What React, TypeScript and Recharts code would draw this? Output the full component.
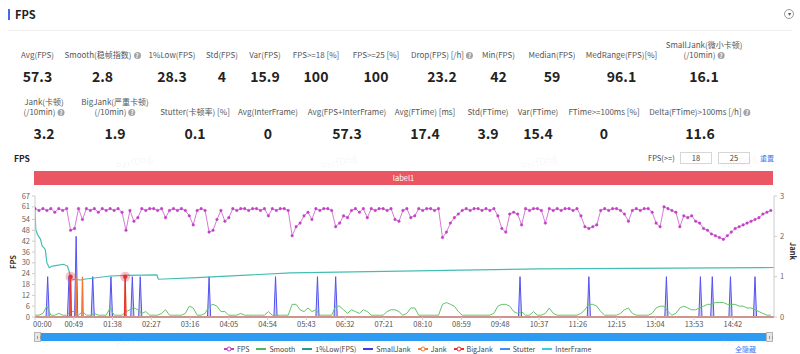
import React from "react";
import { ComposedChart, Line, Area, XAxis, YAxis } from "recharts";

const FONT = '"Noto Sans CJK SC", "Noto Sans", sans-serif';

// sampling step of the FPS / Smooth series, seconds
const STEP = 5;
const END = 934;

const fpsValues = [
  60, 59, 60, 59, 60, 58, 60, 59, 60, 48,
  49, 60, 54, 60, 59, 60, 58, 60, 59, 60,
  59, 60, 58, 48, 59, 53, 55, 60, 59, 60,
  60, 59, 60, 55, 59, 60, 59, 60, 59, 56,
  51, 59, 60, 59, 47, 48, 54, 59, 53, 55,
  60, 59, 60, 60, 59, 60, 60, 59, 60, 56,
  60, 59, 60, 60, 59, 45, 50, 52, 56, 58,
  54, 60, 59, 60, 60, 59, 50, 52, 56, 55,
  59, 60, 58, 60, 55, 60, 59, 60, 60, 59,
  60, 54, 53, 59, 60, 55, 56, 60, 59, 60,
  60, 59, 60, 44, 47, 52, 55, 57, 59, 60,
  59, 60, 60, 59, 60, 59, 60, 56, 49, 47,
  57, 58, 57, 51, 60, 59, 60, 60, 59, 52,
  60, 59, 60, 59, 60, 60, 59, 60, 56, 50,
  49, 50, 51, 59, 60, 59, 60, 60, 59, 57,
  53, 59, 60, 59, 60, 60, 58, 52, 50, 61,
  60, 59, 58, 50, 56, 55, 56, 53, 52, 49,
  48, 46, 45, 44, 43, 45, 47, 49, 50, 51,
  52, 53, 54, 55, 57, 58, 59,
];

const smoothValues = [
  1, 1, 2, 6, 1, 1, 2, 1, 1, 3,
  3, 1, 3, 1, 1, 2, 1, 1, 1, 5,
  1, 1, 1, 3, 4, 5, 4, 2, 3, 1,
  1, 1, 2, 4, 1, 1, 1, 1, 2, 6,
  5, 1, 1, 2, 6, 7, 6, 3, 3, 1,
  1, 1, 2, 1, 1, 1, 1, 1, 1, 3,
  1, 1, 1, 1, 1, 7, 7, 4, 3, 5,
  3, 4, 1, 1, 1, 1, 6, 6, 4, 2,
  4, 3, 2, 4, 3, 1, 1, 1, 1, 3,
  4, 4, 3, 1, 2, 5, 5, 1, 1, 1,
  1, 1, 1, 7, 8, 7, 6, 3, 1, 1,
  1, 1, 1, 1, 1, 1, 2, 6, 7, 7,
  6, 3, 2, 3, 1, 1, 3, 1, 1, 2,
  5, 2, 1, 1, 1, 1, 1, 1, 2, 4,
  7, 7, 6, 3, 1, 1, 1, 1, 2, 4,
  5, 2, 1, 1, 1, 1, 2, 5, 6, 6,
  3, 1, 2, 5, 6, 5, 4, 4, 5, 6,
  7, 7, 8, 8, 8, 7, 7, 7, 6, 6,
  5, 5, 4, 3, 2, 1, 1,
];

const lowTimes = [0, 1, 3, 7, 9, 11, 13, 15, 18, 22, 28, 36, 41, 43, 45, 47, 58, 62, 95, 116, 154, 156, 205, 323, 638, 934];
const lowValues = [60, 48.5, 45.8, 43, 39.3, 38.4, 37.4, 30.1, 27.3, 28.2, 28.6, 29.2, 28.2, 25.5, 21.8, 20.9, 20.5, 20.9, 22.7, 23.1, 23.3, 20.9, 21.8, 24.4, 26.7, 27.4];

const smallJankTimes = [16, 43, 52, 73, 96, 123, 133, 220, 304, 357, 380, 613, 700, 798, 841, 856, 879, 910];
const smallJankValues = [1, 1, 2, 1, 1, 1, 1, 1, 1, 1, 1, 1, 1, 1, 1, 1, 1, 1];
const jankTimes = [45, 52, 60, 114];
const jankValues = [1, 1, 1, 1];
const bigJankTimes = [45, 114];
const bigJankValues = [1, 1];
const stutterTimes: number[] = [];
const interFrameTimes: number[] = [];

const timeTicks = [0, 49, 98, 147, 196, 245, 294, 343, 392, 441, 490, 539, 588, 637, 686, 735, 784, 833, 882];
const fpsTicks = [0, 6, 12, 18, 24, 30, 36, 42, 48, 54, 61, 67];
const jankTicks = [0, 1, 2, 3];

const row1Labels = [["Avg(FPS)"], ["Smooth(稳帧指数)"], ["1%Low(FPS)"], ["Std(FPS)"], ["Var(FPS)"], ["FPS>=18 [%]"], ["FPS>=25 [%]"], ["Drop(FPS) [/h]"], ["Min(FPS)"], ["Median(FPS)"], ["MedRange(FPS)[%]"], ["SmallJank(微小卡顿)", "(/10min)"]];
const row1Values = ["57.3", "2.8", "28.3", "4", "15.9", "100", "100", "23.2", "42", "59", "96.1", "16.1"];
const row1Help = [false, true, false, false, false, false, false, true, false, false, false, true];
const row1X = [37.5, 102.5, 172, 222, 265, 316, 376, 442, 498.5, 552, 621.5, 704];

const row2Labels = [["Jank(卡顿)", "(/10min)"], ["BigJank(严重卡顿)", "(/10min)"], ["Stutter(卡顿率) [%]"], ["Avg(InterFrame)"], ["Avg(FPS+InterFrame)"], ["Avg(FTime) [ms]"], ["Std(FTime)"], ["Var(FTime)"], ["FTime>=100ms [%]"], ["Delta(FTime)>100ms [/h]"]];
const row2Values = ["3.2", "1.9", "0.1", "0", "57.3", "17.4", "3.9", "15.4", "0", "11.6"];
const row2Help = [true, true, false, false, false, false, false, false, false, true];
const row2X = [44, 115, 195, 268, 347, 425, 488, 538, 604, 700];

const legendNames = ["FPS", "Smooth", "1%Low(FPS)", "SmallJank", "Jank", "BigJank", "Stutter", "InterFrame"];
const legendColors = ["#c23ec4", "#4fb85a", "#1c9d8f", "#3b3bea", "#f07a35", "#e3303b", "#3f8ef0", "#2fd0e6"];
const legendDots = [true, false, false, false, true, true, false, false];

const COLORS = {
  fps: "#c23ec4",
  fpsLine: "#d77ad8",
  smooth: "#62c46c",
  low: "#45bdb4",
  smallJank: "#5252f0",
  jank: "#f07a35",
  bigJank: "#e3303b",
  stutter: "#3f8ef0",
  interFrame: "#2fd0e6",
};

const mainRows = fpsValues.map((fps, i) => ({ t: i * STEP, fps, smooth: smoothValues[i] }));
const lowRows = lowTimes.map((t, i) => ({ t, v: lowValues[i] }));

// zero baseline with a narrow spike at each event time
const spikeRows = (times: number[], values: number[], half: number) => {
  const rows = [{ t: 0, v: 0 }];
  times.forEach((t, i) => {
    rows.push({ t: t - half, v: 0 }, { t, v: values[i] }, { t: t + half, v: 0 });
  });
  rows.push({ t: END, v: 0 });
  return rows;
};

const fmtTime = (s: number) =>
  `${String(Math.floor(s / 60)).padStart(2, "0")}:${String(s % 60).padStart(2, "0")}`;

const TimeTick = (props: any) => {
  const { x, y, payload } = props;
  const first = payload.value === 0;
  return (
    <text x={first ? x - 2 : x} y={y} dy="0.71em" textAnchor={first ? "start" : "middle"} fontSize={7.5} fill="#555" fontFamily={FONT}>
      {fmtTime(payload.value)}
    </text>
  );
};

const BigJankDot = (props: any) => {
  const { cx, cy, payload, index } = props;
  if (!payload || payload.v <= 0) return <g key={`bj-${index}`} />;
  return (
    <g key={`bj-${index}`}>
      <circle cx={cx} cy={cy} r={5} fill={COLORS.bigJank} fillOpacity={0.3} />
      <circle cx={cx} cy={cy} r={2.2} fill={COLORS.bigJank} />
    </g>
  );
};

const Help = () => (
  <span
    style={{
      display: "inline-block",
      width: 7,
      height: 7,
      borderRadius: "50%",
      background: "#a3a3a3",
      color: "#fff",
      fontSize: 6,
      lineHeight: "7px",
      textAlign: "center",
      marginLeft: 2,
      verticalAlign: "middle",
      fontWeight: 700,
    }}
  >
    ?
  </span>
);

const StatRow = ({ labels, values, help, xs, labelBottom, valueTop }: any) => (
  <>
    {labels.map((lines: string[], i: number) => (
      <React.Fragment key={i}>
        <div
          style={{
            position: "absolute",
            left: xs[i],
            top: labelBottom - lines.length * 10,
            transform: "translateX(-50%)",
            whiteSpace: "nowrap",
            textAlign: "center",
            fontSize: 8,
            lineHeight: "10px",
            color: "#555",
          }}
        >
          {lines.map((l, j) => (
            <div key={j}>
              {l}
              {help[i] && j === lines.length - 1 && <Help />}
            </div>
          ))}
        </div>
        <div
          style={{
            position: "absolute",
            left: xs[i],
            top: valueTop,
            transform: "translateX(-50%)",
            whiteSpace: "nowrap",
            fontSize: 14,
            lineHeight: "16px",
            fontWeight: 700,
            color: "#222",
          }}
        >
          {values[i]}
        </div>
      </React.Fragment>
    ))}
  </>
);

const watermarkX = [135, 340, 540, 740];

const App = () => {
  return (
    <div style={{ position: "relative", width: 800, height: 354, background: "#fff", fontFamily: FONT, overflow: "hidden" }}>
      <style>{"body{margin:0}"}</style>

      {/* header */}
      <div style={{ position: "absolute", left: 8, top: 9, width: 2, height: 11, background: "#3d6cf0" }} />
      <div style={{ position: "absolute", left: 15, top: 6, fontSize: 11, lineHeight: "16px", fontWeight: 700, color: "#222" }}>FPS</div>
      <div style={{ position: "absolute", left: 784, top: 9, width: 10, height: 10, borderRadius: "50%", border: "1px solid #999", boxSizing: "border-box", fontSize: 6, lineHeight: "8px", textAlign: "center", color: "#555" }}>▾</div>
      <div style={{ position: "absolute", left: 8, right: 8, top: 30, height: 1, background: "#eeeeee" }} />

      <StatRow labels={row1Labels} values={row1Values} help={row1Help} xs={row1X} labelBottom={60} valueTop={68} />
      <StatRow labels={row2Labels} values={row2Values} help={row2Help} xs={row2X} labelBottom={117} valueTop={125} />

      {/* chart toolbar */}
      <div style={{ position: "absolute", left: 14, top: 152, fontSize: 8.5, lineHeight: "12px", fontWeight: 700, color: "#222" }}>FPS</div>
      <div style={{ position: "absolute", left: 648, top: 152, fontSize: 7.5, lineHeight: "12px", color: "#444" }}>FPS(&gt;=)</div>
      {["18", "25"].map((v, i) => (
        <div key={v} style={{ position: "absolute", left: 680 + i * 38, top: 152, width: 32, height: 12, border: "1px solid #d6d6d6", boxSizing: "border-box", fontSize: 7.5, lineHeight: "10px", textAlign: "center", color: "#444" }}>{v}</div>
      ))}
      <div style={{ position: "absolute", left: 760, top: 152, fontSize: 7, lineHeight: "12px", color: "#3a7bf0" }}>重置</div>
      <div style={{ position: "absolute", left: 34, top: 171, width: 739, height: 14, background: "#eb5664", color: "#fff", fontSize: 7.5, lineHeight: "14px", textAlign: "center" }}>label1</div>

      {watermarkX.map((x) => (
        <React.Fragment key={x}>
          <div style={{ position: "absolute", left: x - 20, top: 154, fontSize: 10, color: "rgba(0,0,0,0.06)", transform: "rotate(-15deg)" }}>PerfDog</div>
          <div style={{ position: "absolute", left: x - 20, top: 331, fontSize: 10, color: "rgba(0,0,0,0.06)", transform: "rotate(-15deg)" }}>PerfDog</div>
        </React.Fragment>
      ))}

      {/* axis titles */}
      <div style={{ position: "absolute", left: 6, top: 257, fontSize: 7.5, lineHeight: "10px", fontWeight: 700, color: "#333", transform: "rotate(-90deg)" }}>FPS</div>
      <div style={{ position: "absolute", left: 784, top: 246, fontSize: 7.5, lineHeight: "10px", fontWeight: 700, color: "#333", transform: "rotate(90deg)" }}>Jank</div>

      <div style={{ position: "absolute", left: 0, top: 190 }}>
        <ComposedChart width={800} height={150} data={mainRows} margin={{ top: 6, right: 0, bottom: 0, left: 0 }}>
          <XAxis
            dataKey="t"
            type="number"
            domain={[0, END]}
            allowDataOverflow
            ticks={timeTicks}
            interval={0}
            height={23}
            tickSize={3}
            tickMargin={2}
            tick={<TimeTick />}
            axisLine={{ stroke: "#cccccc" }}
            tickLine={{ stroke: "#cccccc" }}
          />
          <YAxis
            yAxisId="left"
            domain={[0, 67]}
            ticks={fpsTicks}
            interval={0}
            width={35}
            tickSize={3}
            tickMargin={2}
            tick={{ fontSize: 7.5, fill: "#666", fontFamily: FONT }}
            axisLine={{ stroke: "#cccccc" }}
            tickLine={{ stroke: "#cccccc" }}
          />
          <YAxis
            yAxisId="right"
            orientation="right"
            domain={[0, 3]}
            ticks={jankTicks}
            interval={0}
            width={26}
            tickSize={3}
            tickMargin={3}
            tick={{ fontSize: 7.5, fill: "#666", fontFamily: FONT, textAnchor: "start" }}
            axisLine={{ stroke: "#cccccc" }}
            tickLine={{ stroke: "#cccccc" }}
          />
          <Line
            yAxisId="left"
            dataKey="fps"
            type="linear"
            stroke={COLORS.fpsLine}
            strokeWidth={1}
            dot={{ r: 1.3, fill: COLORS.fps, stroke: COLORS.fps, strokeWidth: 0.4 }}
            activeDot={false}
            isAnimationActive={false}
          />
          <Line
            yAxisId="left"
            dataKey="smooth"
            type="linear"
            stroke={COLORS.smooth}
            strokeWidth={1}
            dot={false}
            activeDot={false}
            isAnimationActive={false}
          />
          <Line
            yAxisId="left"
            data={lowRows}
            dataKey="v"
            type="linear"
            stroke={COLORS.low}
            strokeWidth={1.2}
            dot={false}
            activeDot={false}
            isAnimationActive={false}
          />
          <Area
            yAxisId="right"
            data={spikeRows(smallJankTimes, smallJankValues, 2)}
            dataKey="v"
            type="linear"
            stroke={COLORS.smallJank}
            strokeWidth={1}
            fill={COLORS.smallJank}
            fillOpacity={0.3}
            dot={false}
            activeDot={false}
            isAnimationActive={false}
          />
          <Line
            yAxisId="right"
            data={spikeRows(stutterTimes, [], 1)}
            dataKey="v"
            stroke={COLORS.stutter}
            strokeWidth={1}
            dot={false}
            activeDot={false}
            isAnimationActive={false}
          />
          <Line
            yAxisId="right"
            data={spikeRows(interFrameTimes, [], 1)}
            dataKey="v"
            stroke={COLORS.interFrame}
            strokeWidth={1}
            dot={false}
            activeDot={false}
            isAnimationActive={false}
          />
          <Line
            yAxisId="right"
            data={spikeRows(jankTimes, jankValues, 1)}
            dataKey="v"
            type="linear"
            stroke={COLORS.jank}
            strokeWidth={1.3}
            dot={false}
            activeDot={false}
            isAnimationActive={false}
          />
          <Line
            yAxisId="right"
            data={spikeRows(bigJankTimes, bigJankValues, 1)}
            dataKey="v"
            type="linear"
            stroke={COLORS.bigJank}
            strokeWidth={1}
            dot={<BigJankDot />}
            activeDot={false}
            isAnimationActive={false}
          />
        </ComposedChart>
      </div>

      {/* data zoom slider */}
      <div style={{ position: "absolute", left: 40, top: 333, width: 727, height: 8, background: "#2d9bf2" }} />
      {[34, 766].map((x) => (
        <div key={x} style={{ position: "absolute", left: x, top: 332, width: 7, height: 10, background: "#e6e6e6", border: "1px solid #b5b5b5", boxSizing: "border-box" }}>
          <div style={{ position: "absolute", left: 1.5, top: 2.5, width: 2, height: 3, borderLeft: "1px solid #999", borderRight: "1px solid #999" }} />
        </div>
      ))}

      {/* legend */}
      <div style={{ position: "absolute", left: 224, top: 344, display: "flex", alignItems: "center", fontSize: 7, lineHeight: "10px", color: "#444", gap: 7 }}>
        {legendNames.map((name, i) => (
          <div key={name} style={{ display: "flex", alignItems: "center" }}>
            <svg width={10} height={6} style={{ marginRight: 3 }}>
              <line x1={0} y1={3} x2={10} y2={3} stroke={legendColors[i]} strokeWidth={2} />
              {legendDots[i] && <circle cx={5} cy={3} r={2} fill="#fff" stroke={legendColors[i]} strokeWidth={1} />}
            </svg>
            {name}
          </div>
        ))}
      </div>
      <div style={{ position: "absolute", left: 735, top: 344, fontSize: 7, lineHeight: "10px", color: "#3a7bf0" }}>全隐藏</div>
    </div>
  );
};

export default App;
